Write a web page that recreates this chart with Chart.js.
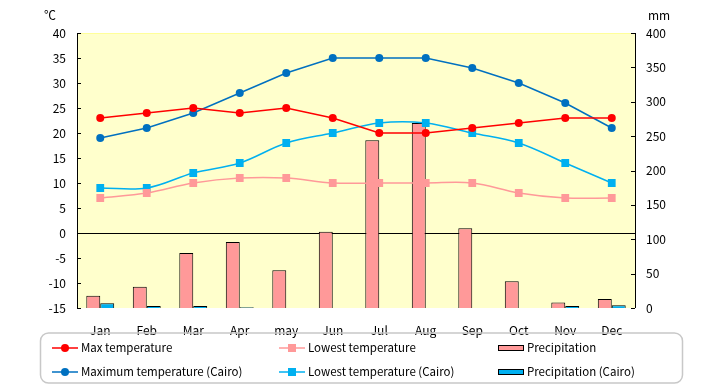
<!DOCTYPE html>
<html lang="en">
<head>
<meta charset="UTF-8">
<title>Climate chart</title>
<script src="https://cdn.jsdelivr.net/npm/chart.js@4.4.0/dist/chart.umd.min.js"></script>
<style>
  body { margin: 0; background: #fff; }
  #wrap { width: 720px; height: 385px; position: relative; }
</style>
</head>
<body>
<div id="wrap"><canvas id="chart" width="720" height="385"></canvas></div>
<script>
const months = ['Jan','Feb','Mar','Apr','may','Jun','Jul','Aug','Sep','Oct','Nov','Dec']
const maxTemp = [23,24,25,24,25,23,20,20,21,22,23,23]
const lowTemp = [7,8,10,11,11,10,10,10,10,8,7,7]
const maxCairo = [19,21,24,28,32,35,35,35,33,30,26,21]
const lowCairo = [9,9,12,14,18,20,22,22,20,18,14,10]
const precip = [18,31,80,96,55,111,244,269,116,39,8,13]
const precipCairo = [7,3,3,1,0,0,0,0,0,0,3,4]

const FONT = '"Noto Sans CJK JP", "Liberation Sans", sans-serif'

// yellow plot area + inward tick marks + unit labels
const decor = {
  id: 'decor',
  beforeDraw(chart) {
    const {ctx, chartArea: a} = chart
    ctx.save()
    ctx.fillStyle = '#FFFFCC'
    ctx.fillRect(a.left, a.top, a.right - a.left, a.bottom - a.top)
    ctx.strokeStyle = '#FFFF99'
    ctx.beginPath()
    ctx.moveTo(a.left, a.top + 0.5); ctx.lineTo(a.right, a.top + 0.5)
    ctx.stroke()
    ctx.restore()
  },
  afterDatasetsDraw(chart) {
    const {ctx, chartArea: a, scales} = chart
    ctx.save()
    ctx.strokeStyle = '#000'
    ctx.lineWidth = 1
    ctx.beginPath()
    ctx.moveTo(a.left + 0.5, a.top); ctx.lineTo(a.left + 0.5, a.bottom)
    ctx.moveTo(a.right + 0.5, a.top); ctx.lineTo(a.right + 0.5, a.bottom)
    scales.y.ticks.forEach(t => {
      const p = Math.round(scales.y.getPixelForValue(t.value)) + 0.5
      ctx.moveTo(a.left, p); ctx.lineTo(a.left + 4, p)
    })
    scales.y2.ticks.forEach(t => {
      const p = Math.round(scales.y2.getPixelForValue(t.value)) + 0.5
      ctx.moveTo(a.right - 4, p); ctx.lineTo(a.right, p)
    })
    ctx.stroke()
    ctx.fillStyle = '#000'
    ctx.font = '12px ' + FONT
    ctx.textBaseline = 'middle'
    ctx.textAlign = 'center'
    ctx.fillText('℃', 50, 15)
    ctx.fillText('mm', 659, 15)
    ctx.restore()
  },
  afterDraw(chart) {
    const ctx = chart.ctx
    const ds = chart.data.datasets
    ctx.save()
    // frame
    ctx.strokeStyle = '#C8C8C8'
    ctx.lineWidth = 1.5
    ctx.beginPath()
    ctx.roundRect(40.5, 333, 642, 50, 8)
    ctx.stroke()
    const cols = [52, 279, 498]
    const rows = [348, 372]
    ctx.font = '11.5px ' + FONT
    ctx.textBaseline = 'middle'
    ctx.textAlign = 'left'
    const layout = [[0, 0, 0], [1, 0, 1], [2, 1, 0], [3, 1, 1], [4, 2, 0], [5, 2, 1]]
    layout.forEach(([i, c, r]) => {
      const d = ds[i]
      const x = cols[c], y = rows[r]
      if (d.type === 'bar') {
        ctx.fillStyle = d.backgroundColor
        ctx.strokeStyle = '#000'
        ctx.lineWidth = 1
        ctx.fillRect(x, y - 3, 26, 5)
        ctx.strokeRect(x + 0.5, y - 2.5, 25, 5)
      } else {
        ctx.strokeStyle = d.borderColor
        ctx.lineWidth = 1.5
        ctx.beginPath(); ctx.moveTo(x, y); ctx.lineTo(x + 26, y); ctx.stroke()
        ctx.fillStyle = d.pointBackgroundColor
        if (d.pointStyle === 'rect') {
          ctx.fillRect(x + 13 - 4, y - 4, 8, 8)
        } else {
          ctx.beginPath(); ctx.arc(x + 13, y, 4, 0, Math.PI * 2); ctx.fill()
        }
      }
      ctx.fillStyle = '#000'
      ctx.fillText(d.label, x + 29, y)
    })
    ctx.restore()
  }
}

function lineSet(label, data, color, style, tension) {
  return {
    type: 'line', label, data, yAxisID: 'y', order: 1,
    borderColor: color, borderWidth: 1.5,
    pointBackgroundColor: color, pointBorderColor: color, pointBorderWidth: 0,
    pointStyle: style, pointRadius: style === 'rect' ? 5.5 : 4,
    tension: tension, fill: false
  }
}

const ctx = document.getElementById('chart').getContext('2d')
new Chart(ctx, {
  data: {
    labels: months,
    datasets: [
      lineSet('Max temperature', maxTemp, '#FF0000', 'circle', 0),
      lineSet('Maximum temperature (Cairo)', maxCairo, '#0070C0', 'circle', 0),
      lineSet('Lowest temperature', lowTemp, '#FF9999', 'rect', 0.35),
      lineSet('Lowest temperature (Cairo)', lowCairo, '#00B0F0', 'rect', 0.35),
      { type: 'bar', label: 'Precipitation', data: precip, yAxisID: 'y2', order: 2,
        backgroundColor: '#FF9999', borderColor: '#000', borderWidth: 1,
        categoryPercentage: 0.6, barPercentage: 1.0 },
      { type: 'bar', label: 'Precipitation (Cairo)', data: precipCairo, yAxisID: 'y2', order: 2,
        backgroundColor: '#00B0F0', borderColor: '#000', borderWidth: 1,
        categoryPercentage: 0.6, barPercentage: 1.0 }
    ]
  },
  options: {
    responsive: false,
    animation: false,
    layout: { padding: { top: 33, left: 0, right: 0, bottom: 0 } },
    plugins: { legend: { display: false }, tooltip: { enabled: false } },
    scales: {
      x: {
        offset: true,
        grid: { display: false },
        border: { display: false },
        ticks: { color: '#000', padding: 7, font: { family: FONT, size: 12 } },
        afterFit(s) { s.height = 77 }
      },
      y: {
        position: 'left', min: -15, max: 40,
        ticks: { stepSize: 5, color: '#000', padding: 11, font: { family: FONT, size: 12 } },
        grid: {
          drawTicks: false,
          color: c => c.tick && c.tick.value === 0 ? '#000' : 'rgba(0,0,0,0)',
          lineWidth: 1
        },
        border: { display: false },
        afterFit(s) { s.width = 77 }
      },
      y2: {
        position: 'right', min: 0, max: 400,
        ticks: { stepSize: 50, color: '#000', padding: 11, font: { family: FONT, size: 12 } },
        grid: { display: false, drawTicks: false },
        border: { display: false },
        afterFit(s) { s.width = 85 }
      }
    }
  },
  plugins: [decor]
})
</script>
</body>
</html>
